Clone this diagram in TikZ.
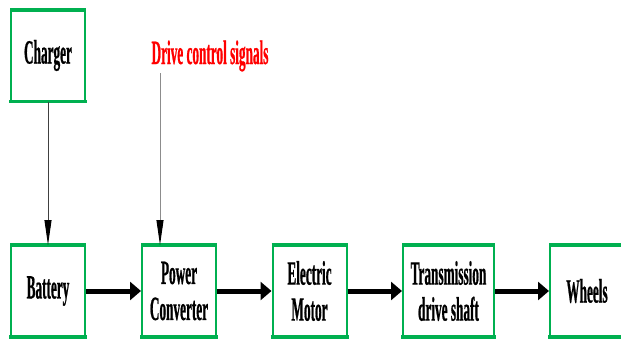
\documentclass[tikz,border=0pt]{standalone}
\usepackage{fontspec}
\setmainfont{Liberation Serif}
\newfontfamily\narrowserif[FakeStretch=0.39, FakeBold=0.6]{Liberation Serif}
\usetikzlibrary{arrows.meta}
\definecolor{boxgreen}{RGB}{0,176,80}

\begin{document}
\begin{tikzpicture}[x=1pt, y=-1pt,
  font=\narrowserif\bfseries\fontsize{34}{36}\selectfont,
  block/.style={draw=boxgreen, line width=2pt, minimum width=74pt, minimum height=90pt, inner sep=0pt, align=center},
  wideblock/.style={block, minimum width=91pt},
  flow/.style={-{Triangle[length=11pt,width=18pt]}, line width=5pt},
  feed/.style={-{Triangle[length=25pt,width=7pt,black]}, line width=0.9pt}]
\useasboundingbox (0,0) rectangle (621,338);
% source and control input
\node[block] (charger) at (48,55.5) {Charger};
\node[text=red, anchor=base] (signals) at (210,64) {Drive control signals};
\coordinate (sigin) at (160,73);
% drive train
\node[block]     (battery) at (48,291)    {Battery};
\node[block]     (conv)    at (179,291)   {Power\\Converter};
\node[block]     (motor)   at (309.5,291) {Electric\\Motor};
\node[wideblock] (trans)   at (448.5,291) {Transmission\\drive shaft};
\node[block]     (wheels)  at (587,291)   {Wheels};
% heavier top and bottom edges
\foreach \n in {charger,battery,conv,motor,trans,wheels}
  \draw[boxgreen, line width=3.5pt, shorten <=-1pt, shorten >=-1pt]
    (\n.north west) -- (\n.north east) (\n.south west) -- (\n.south east);
% connectors
\draw[feed, draw=black!75] (charger) -- (battery);
\draw[feed, draw=black!45] (sigin) -- (sigin |- conv.north);
\foreach \a/\b in {battery/conv,conv/motor,motor/trans,trans/wheels}
  \draw[flow] (\a) -- (\b);
\end{tikzpicture}
\end{document}
